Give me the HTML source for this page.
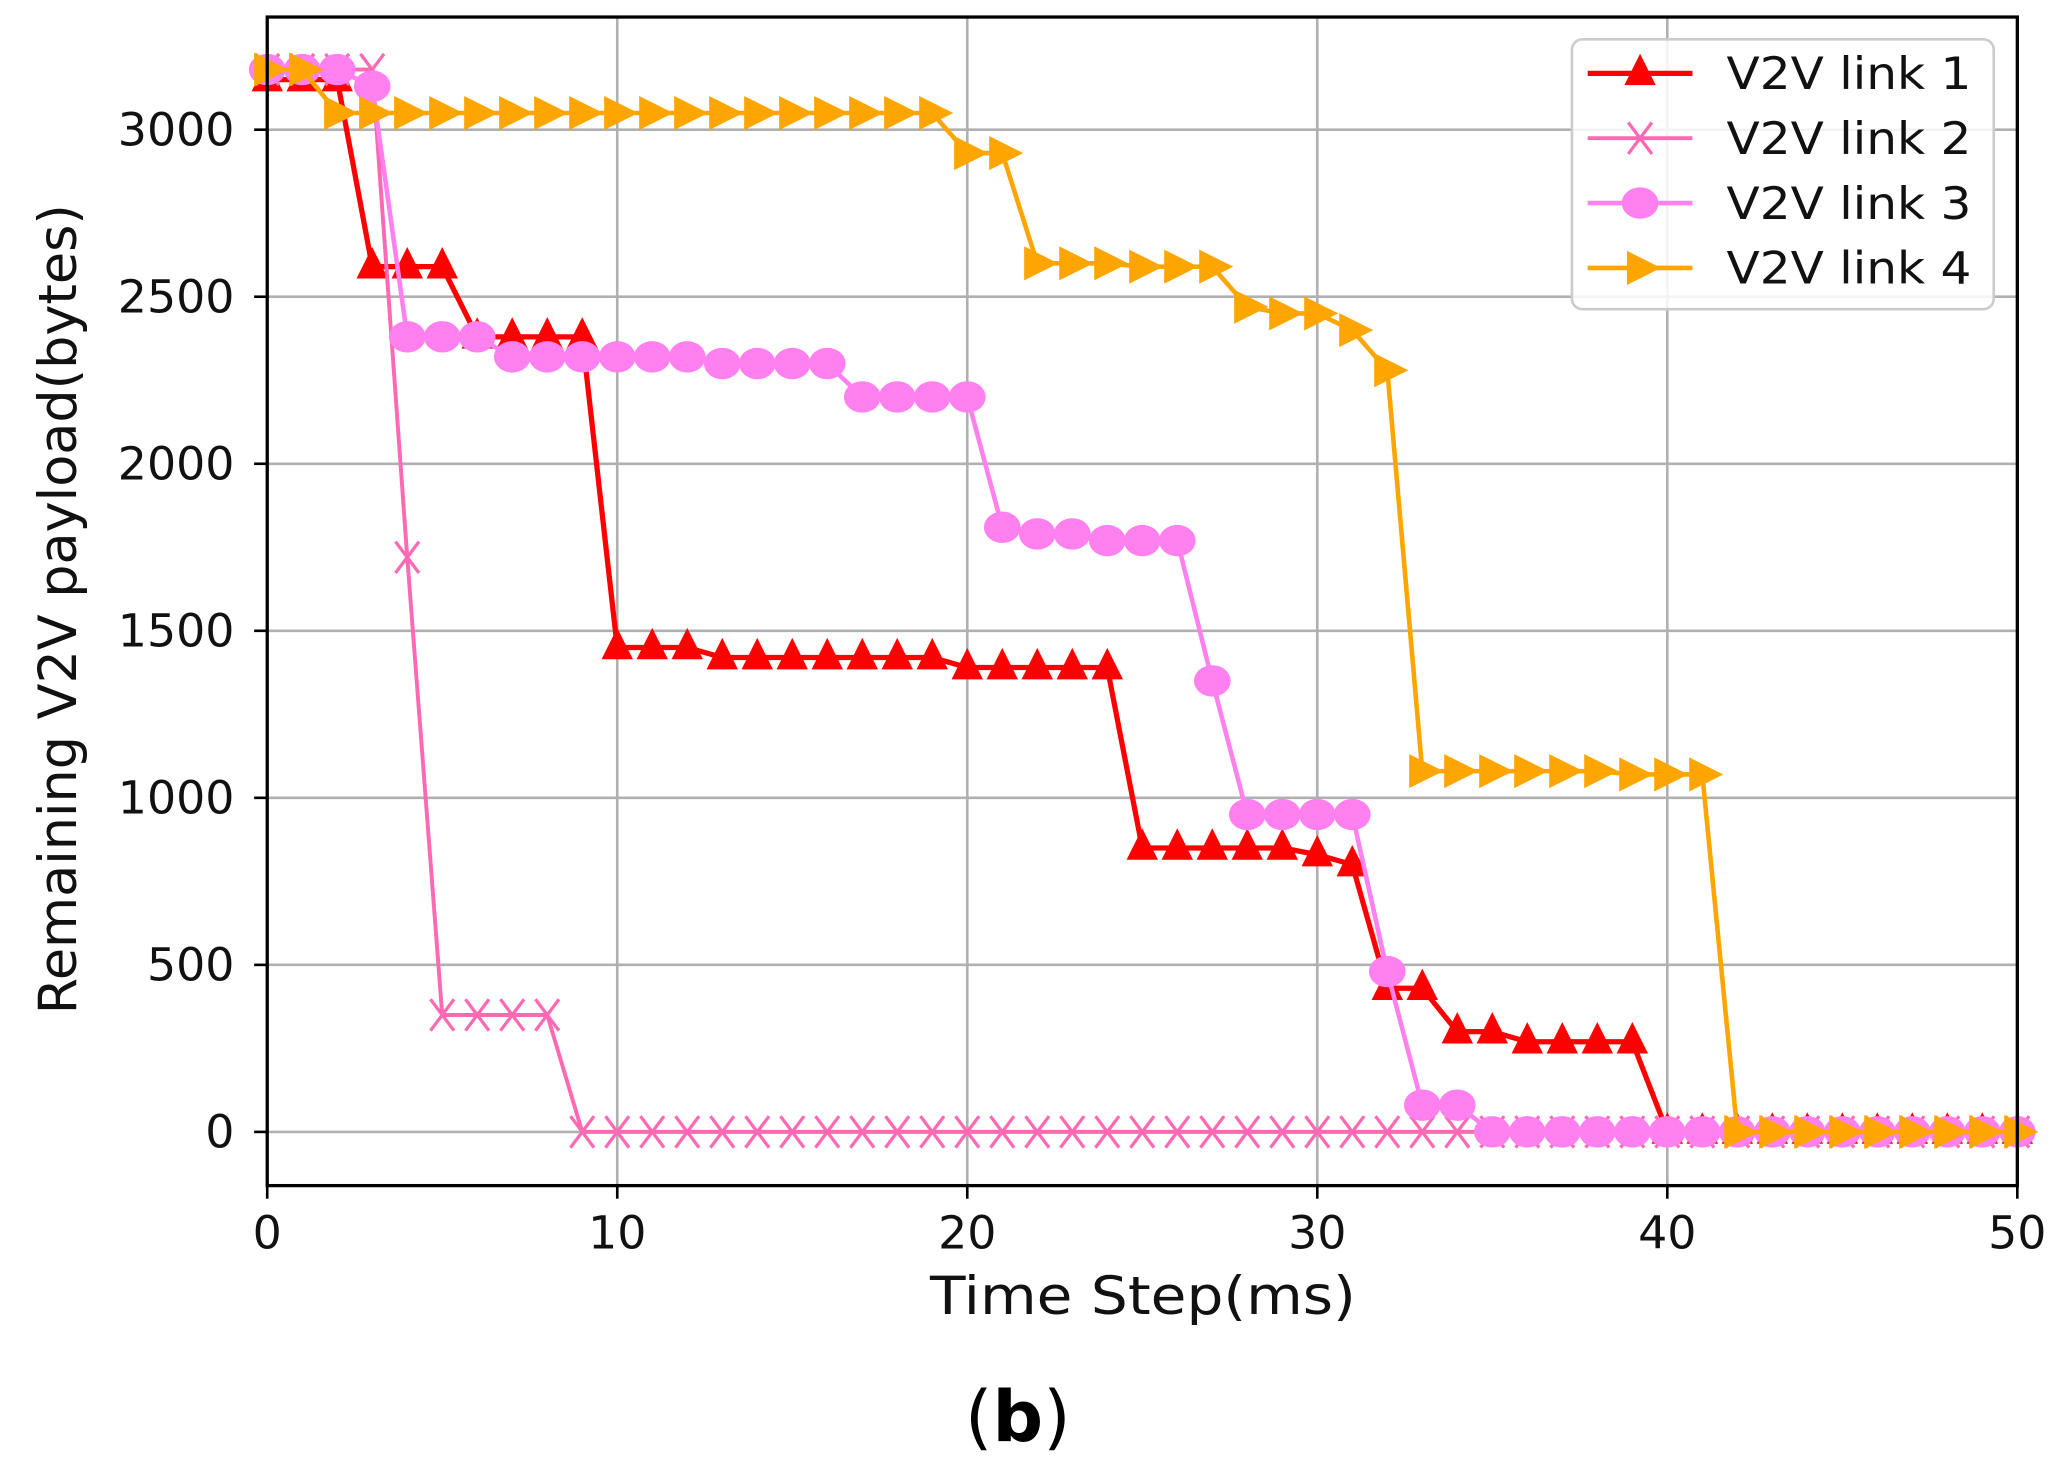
<!DOCTYPE html>
<html><head><meta charset="utf-8"><style>
html,body{margin:0;padding:0;background:#fff;}
svg{display:block;}
text{font-family:"DejaVu Sans","Liberation Sans",sans-serif;}
</style></head><body>
<svg id="chart" width="2054" height="1483" viewBox="0 0 1568 1132" preserveAspectRatio="none" xmlns="http://www.w3.org/2000/svg">
<rect width="1568" height="1132" fill="#fff"/>
<g id="grid"></g>
<g id="series"></g>
<rect x="204" y="13" width="1336" height="892" fill="none" stroke="#000" stroke-width="2.5"/>
<g id="ticks"></g>
<text x="710" y="1003" font-size="40" textLength="325" lengthAdjust="spacingAndGlyphs" fill="#111">Time Step(ms)</text>
<text transform="translate(58,465) rotate(-90)" font-size="40" text-anchor="middle" fill="#111">Remaining V2V payload(bytes)</text>
<text x="777" y="1100" font-size="54" text-anchor="middle" font-family="Liberation Serif, serif" fill="#000">(<tspan font-weight="bold">b</tspan>)</text>
<g id="legend">
<rect x="1200" y="30" width="322" height="206" rx="8" fill="#fff" fill-opacity="0.85" stroke="#ccc" stroke-width="2"/>
</g>
</svg>
<script>
const xTicks=[0,10,20,30,40,50];
const yTicks=[0,500,1000,1500,2000,2500,3000];
const steps=[0,1,2,3,4,5,6,7,8,9,10,11,12,13,14,15,16,17,18,19,20,21,22,23,24,25,26,27,28,29,30,31,32,33,34,35,36,37,38,39,40,41,42,43,44,45,46,47,48,49,50];
const link1=[3150,3150,3150,2590,2590,2590,2380,2380,2380,2380,1450,1450,1450,1420,1420,1420,1420,1420,1420,1420,1390,1390,1390,1390,1390,850,850,850,850,850,830,800,430,430,300,300,270,270,270,270,0,0,0,0,0,0,0,0,0,0,0];
const link2=[3180,3180,3180,3180,1720,350,350,350,350,0,0,0,0,0,0,0,0,0,0,0,0,0,0,0,0,0,0,0,0,0,0,0,0,0,0,0,0,0,0,0,0,0,0,0,0,0,0,0,0,0,0];
const link3=[3180,3180,3180,3130,2380,2380,2380,2320,2320,2320,2320,2320,2320,2300,2300,2300,2300,2200,2200,2200,2200,1810,1790,1790,1770,1770,1770,1350,950,950,950,950,480,80,80,0,0,0,0,0,0,0,0,0,0,0,0,0,0,0,0];
const link4=[3180,3180,3050,3050,3050,3050,3050,3050,3050,3050,3050,3050,3050,3050,3050,3050,3050,3050,3050,3050,2930,2930,2600,2600,2600,2590,2590,2590,2470,2450,2450,2400,2280,1080,1080,1080,1080,1080,1080,1070,1070,1070,0,0,0,0,0,0,0,0,0];
const seriesNames=["V2V link 1","V2V link 2","V2V link 3","V2V link 4"];

const NS="http://www.w3.org/2000/svg";
const X=v=>204+v*(1540-204)/50;
const Y=v=>864-v*0.255;
function mk(tag,attrs,parent){const e=document.createElementNS(NS,tag);for(const k in attrs)e.setAttribute(k,attrs[k]);parent.appendChild(e);return e;}
const grid=document.getElementById('grid'),ticks=document.getElementById('ticks'),ser=document.getElementById('series'),leg=document.getElementById('legend');
xTicks.forEach(t=>{
 const g=mk('line',{x1:X(t),x2:X(t),y1:13,y2:905,stroke:'#b0b0b0','stroke-width':2},grid);
 
 
 const tk=mk('line',{x1:X(t),x2:X(t),y1:905,y2:915,stroke:'#000','stroke-width':2},ticks);
 
 
 const tx=mk('text',{x:X(t),y:953,'font-size':35,'text-anchor':'middle',fill:'#111'},ticks);tx.textContent=t;
 
 
});
yTicks.forEach(t=>{
 const g=mk('line',{x1:204,x2:1540,y1:Y(t),y2:Y(t),stroke:'#b0b0b0','stroke-width':2},grid);
 
 
 const tk=mk('line',{x1:194,x2:204,y1:Y(t),y2:Y(t),stroke:'#000','stroke-width':2},ticks);
 
 
 const tx=mk('text',{x:179,y:Y(t)+12,'font-size':35,'text-anchor':'end',fill:'#111'},ticks);tx.textContent=t;
 
 
});
function marker(type,x,y,color,parent){
 let e;
 if(type==='tri') e=mk('polygon',{points:`${x},${y-15} ${x-12},${y+9} ${x+12},${y+9}`,fill:color},parent);
 else if(type==='x') e=mk('path',{d:`M${x-9},${y-12}L${x+9},${y+12}M${x-9},${y+12}L${x+9},${y-12}`,stroke:color,'stroke-width':2.5,fill:'none'},parent);
 else if(type==='circle') e=mk('ellipse',{cx:x,cy:y,rx:14,ry:12,fill:color},parent);
 else e=mk('polygon',{points:`${x+16},${y} ${x-10},${y-13} ${x-10},${y+13}`,fill:color},parent);
 return e;
}
const defs=[[link1,'#ff0000','tri',4],[link2,'#ff69b4','x',3],[link3,'#ff80ee','circle',3.5],[link4,'#ffa500','rtri',3.5]];
defs.forEach((d,i)=>{
 const [vals,color,m,w]=d;
 const g=mk('g',{},ser);
 
 
 const p=mk('polyline',{points:vals.map((v,j)=>X(steps[j])+','+Y(v)).join(' '),fill:'none',stroke:color,'stroke-width':w,'stroke-linejoin':'round'},g);
 
 
 vals.forEach((v,j)=>{const mm=marker(m,X(steps[j]),Y(v),color,g);
  
  });
 const ly=56+i*49.5;
 const ll=mk('line',{x1:1212,x2:1292,y1:ly,y2:ly,stroke:color,'stroke-width':w},leg);
 
 
 const lm=marker(m,1252,ly,color,leg);
 
 
 const lt=mk('text',{x:1318,y:ly+12,'font-size':34,fill:'#111',textLength:187,lengthAdjust:'spacingAndGlyphs'},leg);lt.textContent=seriesNames[i];
 
 
});
</script>
</body></html>
